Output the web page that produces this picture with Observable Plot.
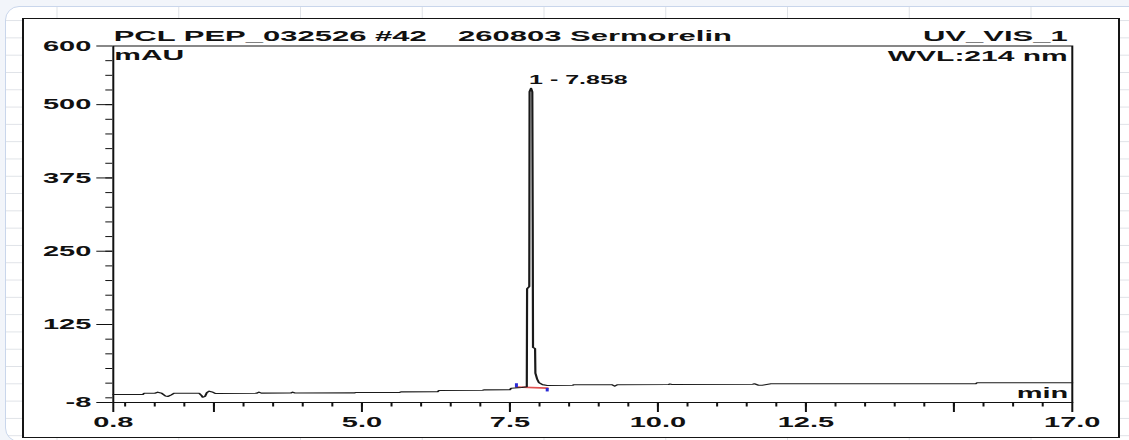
<!DOCTYPE html>
<html>
<head>
<meta charset="utf-8">
<script src="https://cdn.jsdelivr.net/npm/d3@7"></script>
<script src="https://cdn.jsdelivr.net/npm/@observablehq/plot@0.6"></script>
<style>
html, body { margin:0; padding:0; width:1129px; height:440px; overflow:hidden; background:#f2f5fa; font-family:"Liberation Sans", Arial, sans-serif; }
#card { position:absolute; left:5px; top:6px; width:1200px; height:436px; box-sizing:border-box;
  border:1.5px solid #c9d6eb; border-radius:14px; background-color:#fff;
  background-image:linear-gradient(to right, #dfe2e7 1px, transparent 1px), linear-gradient(to bottom, #dfe2e7 1px, transparent 1px);
  background-size:121.75px 100%, 100% 17.3px;
  background-position:50.5px 0, 0 13.1px; }
#frame { position:absolute; left:22px; top:18px; width:1094px; height:418px; border:1px solid #151515; border-left-width:2px; border-right-width:2px; background:#fff; }
</style>
</head>
<body>
<div id="card"></div>
<div id="frame"></div>
<script>
// ---- chromatogram trace (retention time, min / absorbance, mAU) ----
const traceTime = [0.80, 1.30, 1.32, 1.50, 1.55, 1.62, 1.68, 1.72, 1.78, 1.83, 2.25, 2.29, 2.31, 2.35, 2.38, 2.42, 2.47, 2.52, 2.56,
  3.22, 3.26, 3.30, 3.80, 3.83, 3.87, 4.88, 4.90, 5.64, 5.66, 6.28, 6.30, 7.04, 7.06, 7.50, 7.52, 7.70, 7.785,
  7.79, 7.827, 7.832, 7.858, 7.878, 7.885, 7.89, 7.925, 7.93, 7.96, 7.99, 8.05, 8.13,
  8.56, 8.58, 9.22, 9.27, 9.32, 10.18, 10.20, 10.24, 11.60, 11.63, 11.70, 11.76, 11.91, 15.37, 15.39, 17.0];
const traceSignal = [5.6, 5.6, 7.8, 7.9, 9.6, 7.6, 3.0, 2.2, 5.0, 7.8, 7.8, 4.0, 1.0, 2.5, 9.0, 11.3, 10.0, 7.5, 7.3,
  7.8, 9.6, 8.0, 8.2, 9.6, 8.3, 8.4, 9.0, 9.2, 10.2, 10.5, 12.5, 12.8, 13.6, 13.8, 16.4, 17.5, 19.0,
  186, 190, 522, 528, 522, 300, 86, 84, 42, 32, 26, 22.5, 21,
  21.5, 22.2, 22.4, 20.0, 22.4, 22.6, 23.5, 22.8, 23.2, 23.9, 21.5, 21.3, 23.9, 24.0, 25.6, 25.6];

// ---- peak integration ----
const peakTimes = [7.858];
const peakHeights = [528];
const peakNames = ["1 - 7.858"];
const intTimes = [7.61, 8.13];
const intLevels = [18.5, 16.5];
const markerLow = [17, 10];
const markerHigh = [24, 16];

// ---- axes ----
const xLabeled = [0.8, 5.0, 7.5, 10.0, 12.5, 17.0];
const xMajorOther = [2.5, 15.0];
const xMinor = d3.range(1.0, 17.0, 0.5);
const yLabeled = [-8, 125, 250, 375, 500, 600];
const yMinor = d3.range(0, 600, 25);

// ---- texts ----
const titleLeft = "PCL PEP_032526 #42";
const titleMid = "260803 Sermorelin";
const titleRight = "UV_VIS_1";
const unitY = "mAU";
const wavelength = "WVL:214 nm";
const unitX = "min";

const trace = traceTime.map((t, i) => ({t, v: traceSignal[i]}));
const peaks = peakTimes.map((t, i) => ({t, v: peakHeights[i], name: peakNames[i]}));
const integ = intTimes.map((t, i) => ({t, v: intLevels[i], lo: markerLow[i], hi: markerHigh[i]}));

const F = {fontWeight: "bold", fill: "#111"};
const svg = Plot.plot({
  width: 547,
  height: 418,
  marginLeft: 44.15,
  marginRight: 23.35,
  marginTop: 26.5,
  marginBottom: 35,
  x: {domain: [0.8, 17.0], label: null},
  y: {domain: [-8, 600], label: null},
  style: {background: "transparent", color: "#111", fontFamily: "'Liberation Sans', Arial, sans-serif", fontSize: "15px", overflow: "visible"},
  marks: [
    Plot.frame({stroke: "#111"}),
    Plot.axisY(yMinor, {tickSize: 3.5, tickFormat: () => "", label: null}),
    Plot.axisY(yLabeled, {tickSize: 8, tickPadding: 3, fontSize: 14.5, fontWeight: "bold", tickFormat: d => String(d), label: null}),
    Plot.axisX(xMinor, {tickSize: 4.5, tickFormat: () => "", label: null}),
    Plot.axisX(xMajorOther, {tickSize: 10, tickFormat: () => "", label: null}),
    Plot.axisX(xLabeled, {tickSize: 10, tickPadding: 4, fontSize: 14.5, fontWeight: "bold", tickFormat: d => d.toFixed(1), label: null}),
    Plot.line(integ, {x: "t", y: "v", stroke: "#e05050", strokeWidth: 1.6}),
    Plot.ruleX(integ, {x: "t", y1: "lo", y2: "hi", stroke: "#2b2bd6", strokeWidth: 1.5}),
    Plot.line(trace, {x: "t", y: "v", stroke: "#1a1a1a", strokeWidth: 1.1}),
    Plot.text(peaks, {x: "t", y: "v", text: "name", textAnchor: "start", lineAnchor: "middle", dx: -1, dy: -8, fontSize: 12.5, ...F}),
    Plot.text([titleLeft], {frameAnchor: "top-left", textAnchor: "start", lineAnchor: "bottom", dx: 0.2, dy: -5.5, fontSize: 15.5, ...F}),
    Plot.text([titleMid], {frameAnchor: "top", textAnchor: "start", lineAnchor: "bottom", dx: -67.4, dy: -5.5, fontSize: 15.5, ...F}),
    Plot.text([titleRight], {frameAnchor: "top-right", textAnchor: "end", lineAnchor: "bottom", dx: -2.3, dy: -5.5, fontSize: 15.5, ...F}),
    Plot.text([unitY], {frameAnchor: "top-left", textAnchor: "start", lineAnchor: "top", dx: 0.5, dy: 3.5, fontSize: 15, ...F}),
    Plot.text([wavelength], {frameAnchor: "top-right", textAnchor: "end", lineAnchor: "top", dx: -2.3, dy: 4, fontSize: 15, ...F}),
    Plot.text([unitX], {frameAnchor: "bottom-right", textAnchor: "end", lineAnchor: "bottom", dx: -2, dy: -4.5, fontSize: 14.5, ...F})
  ]
});
svg.setAttribute("width", 1094);
svg.setAttribute("height", 418);
svg.setAttribute("preserveAspectRatio", "none");
svg.style.maxWidth = "none";
svg.style.width = "1094px";
svg.style.height = "418px";
svg.style.display = "block";
document.getElementById("frame").appendChild(svg);
</script>
</body>
</html>
